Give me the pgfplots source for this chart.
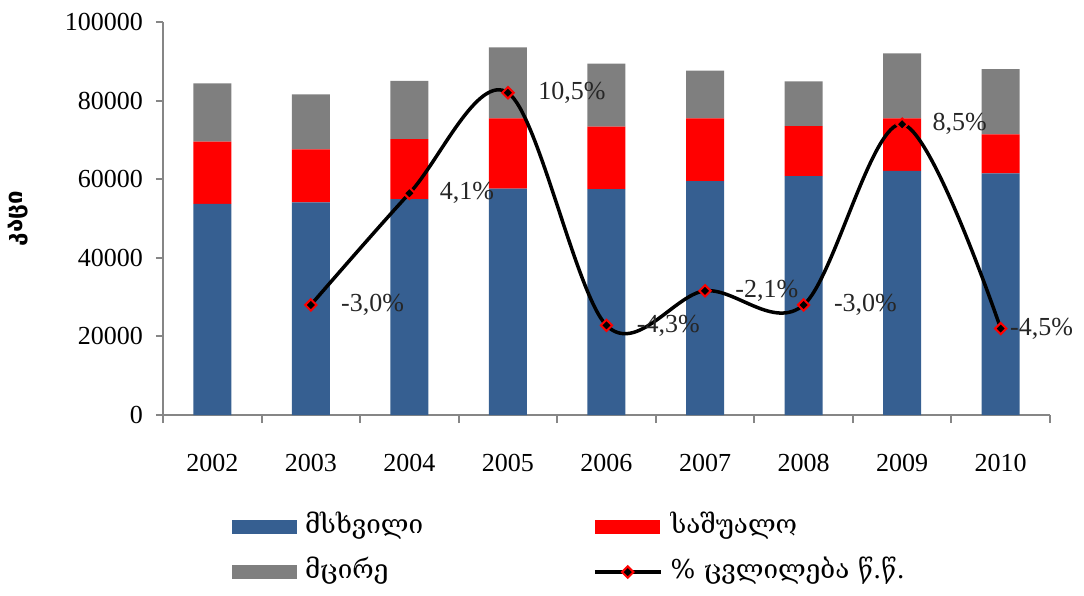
\documentclass[border=0pt]{standalone}
\usepackage{fontspec}
\setmainfont{Liberation Serif}
\newfontfamily\geo{DejaVu Serif}
\newfontfamily\geosans{DejaVu Sans}
\usepackage{pgfplots}
\usepackage{pgfplotstable}
\pgfplotsset{compat=1.18}
\definecolor{cblue}{HTML}{365F91}
\definecolor{cred}{HTML}{FF0000}
\definecolor{cgray}{HTML}{7F7F7F}
\definecolor{axgray}{HTML}{868686}

\pgfplotsset{
  swatch/.style={legend image code/.code={\fill[##1] (0bp,-3.5bp) rectangle (32.5bp,3.5bp);}},
  linesw/.style={legend image code/.code={\draw[##1, mark=none] (0bp,0bp) -- (33bp,0bp); \draw[##1] plot coordinates {(16.5bp,0bp)};}},
}

\pgfplotstableread{
x blue red gray
0 53700 15850 14850
1 54100 13500 14000
2 54900 15300 14800
3 57600 17900 18050
4 57500 15900 16000
5 59500 16000 12100
6 60800 12700 11400
7 62100 13400 16500
8 61500 9900 16600
}\bars

\pgfplotstableread{
x y
1 -3.0
2 4.1
3 10.5
4 -4.3
5 -2.1
6 -3.0
7 8.5
8 -4.5
}\change

\pgfplotstableread{
x y label
1 -3.0 -3,0\%
2 4.1 4,1\%
3 10.5 10,5\%
4 -4.3 -4,3\%
5 -2.1 -2,1\%
6 -3.0 -3,0\%
7 8.5 8,5\%
}\labelsA

\pgfplotstableread{
x y label
8 -4.5 -4,5\%
}\labelsB

\begin{document}
\begin{tikzpicture}[font=\fontsize{13bp}{15bp}\selectfont]
\begin{axis}[
  at={(0,0)}, anchor=south west,
  scale only axis, width=443.5bp, height=196.5bp,
  xmin=-0.5, xmax=8.5, ymin=0, ymax=100000,
  ybar stacked, bar width=19bp,
  xtick={0,...,8},
  xticklabels={2002,2003,2004,2005,2006,2007,2008,2009,2010},
  minor xtick={-0.5,0.5,...,8.5},
  major x tick style={draw=none},
  ytick={0,20000,40000,60000,80000,100000},
  scaled y ticks=false,
  /pgf/number format/.cd, fixed, 1000 sep={}, assume math mode=true, /pgfplots/.cd,
  axis x line*=bottom, axis y line*=left,
  axis line style={-, axgray, line width=1bp},
  tick align=outside,
  tick style={axgray, line width=1bp},
  major tick length=3.5bp, minor tick length=4bp,
  yticklabel style={xshift=-3bp},
  xticklabel style={yshift=-12.5bp},
  every axis y label/.style={at={(axis description cs:-0.1635,0.5)}, rotate=90, anchor=center},
  ylabel={\geosans\bfseries\fontsize{12bp}{14bp}\selectfont კაცი},
  legend columns=2,
  legend cell align=left,
  legend style={draw=none, fill=none, inner sep=0pt, outer sep=0pt,
    at={(axis description cs:0.0778,-0.2545)}, anchor=north west,
    font=\geo\fontsize{13bp}{15bp}\selectfont,
    nodes={inner sep=0pt, text width=144bp, text height=9bp, text depth=3bp, align=left},
    row sep=10.5bp,
    /tikz/every odd column/.append style={column sep=4bp}},
]
\addplot+[fill=cblue, draw=none, swatch] table[x=x, y=blue]{\bars};
\addlegendentry{მსხვილი}
\addplot+[fill=cred, draw=none, swatch] table[x=x, y=red]{\bars};
\addlegendentry{საშუალო}
\addplot+[fill=cgray, draw=none, swatch] table[x=x, y=gray]{\bars};
\addlegendentry{მცირე}
\addlegendimage{black, line width=1.75bp, mark=square*, mark size=2bp,
  mark options={rotate=45, fill=black, draw=red, line width=1bp, solid}, linesw}
\addlegendentry{\% ცვლილება წ.წ.}
\end{axis}

\begin{axis}[
  at={(0,0)}, anchor=south west,
  scale only axis, width=443.5bp, height=196.5bp,
  xmin=-0.5, xmax=8.5, ymin=-10, ymax=15,
  hide axis, clip=false,
]
\addplot[black, line width=1.75bp, smooth, tension=0.55, mark=square*, mark size=2bp,
  mark options={rotate=45, fill=black, draw=red, line width=1bp, solid}]
  table[x=x, y=y]{\change};
\addplot[draw=none, mark=none, point meta=explicit symbolic,
  nodes near coords, nodes near coords style={anchor=west, xshift=15bp, inner sep=0pt, font=\fontsize{13bp}{15bp}\selectfont, text=black!85}]
  table[x=x, y=y, meta=label]{\labelsA};
\addplot[draw=none, mark=none, point meta=explicit symbolic,
  nodes near coords, nodes near coords style={anchor=west, xshift=4.5bp, inner sep=0pt, font=\fontsize{13bp}{15bp}\selectfont, text=black!85}]
  table[x=x, y=y, meta=label]{\labelsB};
\end{axis}
\pgfresetboundingbox
\path[use as bounding box] (-81.5bp,-90.5bp) rectangle (460.5bp,207.5bp);
\end{tikzpicture}
\end{document}
